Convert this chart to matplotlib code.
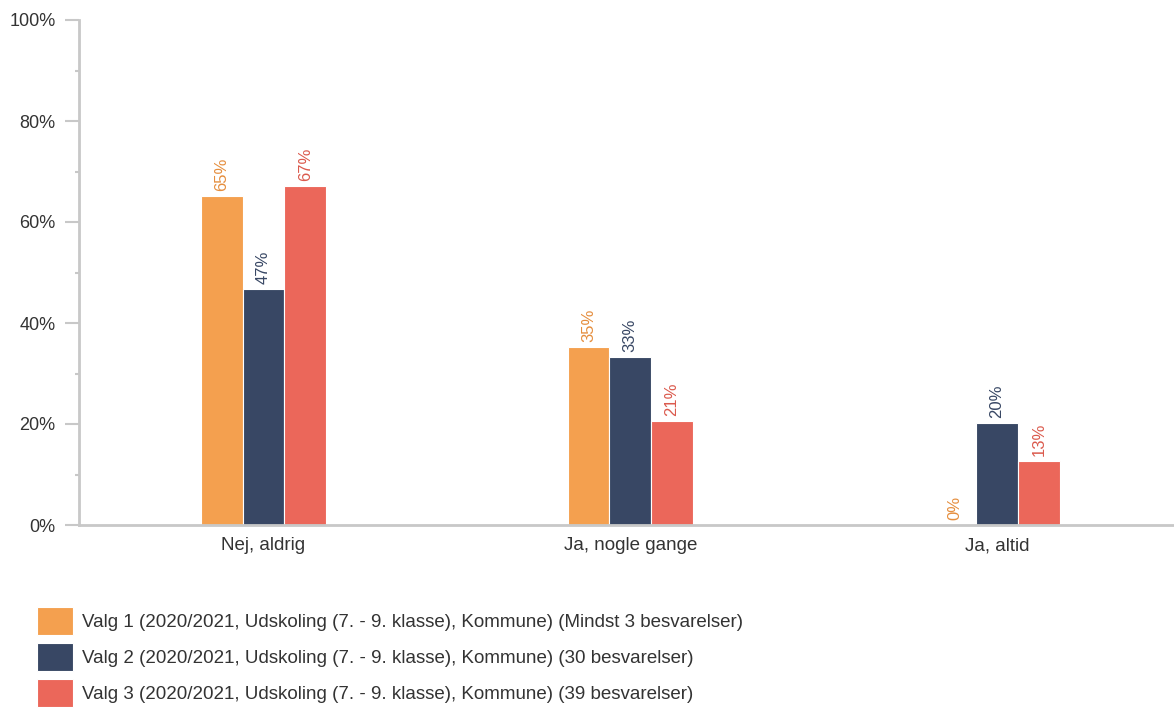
import numpy as np
import matplotlib
matplotlib.use('Agg')
import matplotlib.pyplot as plt
from matplotlib.ticker import MultipleLocator, PercentFormatter

plt.rcParams['font.family'] = ['Liberation Sans', 'DejaVu Sans']

# Data
categories = ['Nej, aldrig', 'Ja, nogle gange', 'Ja, altid']
series_names = [
    'Valg 1 (2020/2021, Udskoling (7. - 9. klasse), Kommune) (Mindst 3 besvarelser)',
    'Valg 2 (2020/2021, Udskoling (7. - 9. klasse), Kommune) (30 besvarelser)',
    'Valg 3 (2020/2021, Udskoling (7. - 9. klasse), Kommune) (39 besvarelser)',
]
valg1 = [65.1, 35.2, 0.0]
valg2 = [46.7, 33.3, 20.2]
valg3 = [67.1, 20.6, 12.7]

bar_colors = ['#F4A04F', '#384764', '#EB675A']
label_colors = ['#E58E3E', '#384764', '#DB5A4D']
grey = '#C8C8C8'

fig = plt.figure(figsize=(11.74, 7.09), dpi=100)
ax = fig.add_axes([79 / 1174, 1 - 525 / 709, 1094 / 1174, 505 / 709])

x = np.arange(len(categories))
width = 0.114
offsets = [-width, 0, width]

for vals, name, col, lcol, off in zip([valg1, valg2, valg3], series_names,
                                       bar_colors, label_colors, offsets):
    bars = ax.bar(x + off, vals, width, color=col, edgecolor='white',
                  linewidth=0.8, label=name)
    for b, v in zip(bars, vals):
        ax.text(b.get_x() + b.get_width() / 2, v + 1.0, f'{v:.0f}%',
                rotation=90, ha='center', va='bottom', fontsize=12,
                color=lcol)

ax.set_xlim(-0.503, 2.48)
ax.set_ylim(0, 100)
ax.set_xticks(x)
ax.set_xticklabels(categories, fontsize=13.5, color='#333333')
ax.tick_params(axis='x', length=0, pad=9)

ax.yaxis.set_major_locator(MultipleLocator(20))
ax.yaxis.set_minor_locator(MultipleLocator(10))
ax.yaxis.set_major_formatter(PercentFormatter(decimals=0))
ax.tick_params(axis='y', which='major', length=10, width=1.5, color=grey,
               labelsize=13, labelcolor='#333333', pad=7)
ax.tick_params(axis='y', which='minor', length=3, width=1.5, color=grey)

for side in ['top', 'right']:
    ax.spines[side].set_visible(False)
for side in ['left', 'bottom']:
    ax.spines[side].set_color(grey)
    ax.spines[side].set_linewidth(2)

fig.legend(loc='upper left', bbox_to_anchor=(37 / 1174, 1 - 607 / 709),
           frameon=False, fontsize=13.5, handlelength=1.92, handleheight=1.92,
           handletextpad=0.48, labelspacing=0.43, borderpad=0, borderaxespad=0,
           labelcolor='#333333')

fig.savefig('out.png', dpi=100)
